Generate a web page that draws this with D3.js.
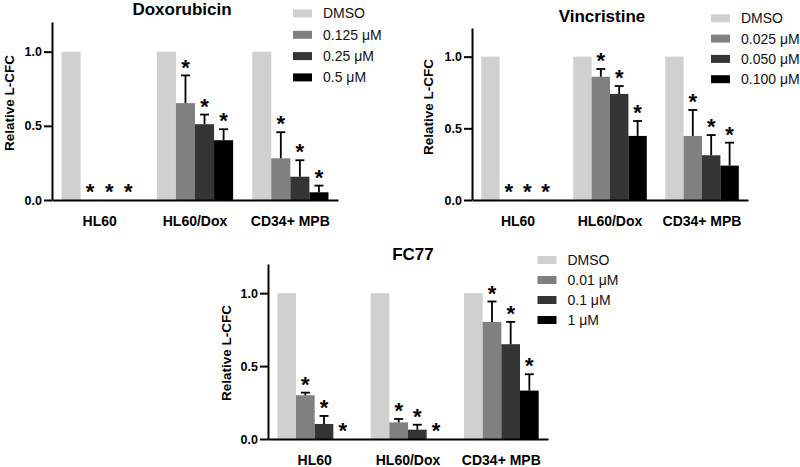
<!DOCTYPE html>
<html>
<head>
<meta charset="utf-8">
<script src="https://cdn.jsdelivr.net/npm/d3@7"></script>
<style>
  body { margin: 0; background: #fff; }
  svg { display: block; font-family: "Liberation Sans", Arial, sans-serif; }
</style>
</head>
<body>
<div id="chart"></div>
<script>
// cell lines on the x axis (same for all three panels)
var groups = ["HL60", "HL60/Dox", "CD34+ MPB"];
var yTicks = [0, 0.5, 1.0];

// Doxorubicin
var doxDoses = ["DMSO", "0.125 μM", "0.25 μM", "0.5 μM"];
var doxMeans = [[1, 0, 0, 0], [1, 0.653, 0.511, 0.403], [1, 0.281, 0.157, 0.052]];
var doxSem   = [[0, 0, 0, 0], [0, 0.187, 0.065, 0.074], [0, 0.176, 0.111, 0.045]];

// Vincristine
var vinDoses = ["DMSO", "0.025 μM", "0.050 μM", "0.100 μM"];
var vinMeans = [[1, 0, 0, 0], [1, 0.86, 0.74, 0.447], [1, 0.447, 0.312, 0.24]];
var vinSem   = [[0, 0, 0, 0], [0, 0.054, 0.055, 0.104], [0, 0.181, 0.141, 0.16]];

// FC77
var fcDoses = ["DMSO", "0.01 μM", "0.1 μM", "1 μM"];
var fcMeans = [[1, 0.30, 0.103, 0], [1, 0.114, 0.064, 0], [1, 0.803, 0.65, 0.332]];
var fcSem   = [[0, 0.018, 0.055, 0], [0, 0.023, 0.034, 0], [0, 0.14, 0.153, 0.112]];

// significance star over every treated bar
var doseStars = [false, true, true, true];

var colors = ["#d0d0d0", "#808080", "#353535", "#000000"];

var svg = d3.select("#chart").append("svg")
    .attr("width", 800)
    .attr("height", 467);

function drawPanel(p) {
    var g = svg.append("g");

    var x = d3.scaleBand().domain(groups).range([p.x0, p.x1])
        .paddingInner(0.2).paddingOuter(0.1);
    var xInner = d3.scaleBand().domain(d3.range(p.doses.length)).range([0, x.bandwidth()]);
    var y = d3.scaleLinear().domain([0, 1.2]).range([p.y0, p.yTop]);

    // bars
    var rows = [];
    groups.forEach(function(grp, gi) {
        p.means[gi].forEach(function(m, di) {
            rows.push({group: grp, dose: di, mean: m, sem: p.sem[gi][di]});
        });
    });

    g.selectAll("rect.bar").data(rows).enter().append("rect")
        .attr("class", "bar")
        .attr("x", function(d) { return x(d.group) + xInner(d.dose); })
        .attr("y", function(d) { return y(d.mean); })
        .attr("width", xInner.bandwidth())
        .attr("height", function(d) { return y(0) - y(d.mean); })
        .attr("fill", function(d) { return colors[d.dose]; });

    // error bars (upper only)
    var errRows = rows.filter(function(d) { return d.sem > 0; });
    var cx = function(d) { return x(d.group) + xInner(d.dose) + xInner.bandwidth() / 2; };
    g.selectAll("line.err").data(errRows).enter().append("line")
        .attr("x1", cx).attr("x2", cx)
        .attr("y1", function(d) { return y(d.mean); })
        .attr("y2", function(d) { return y(d.mean + d.sem); })
        .attr("stroke", "#000").attr("stroke-width", 1.8);
    g.selectAll("line.cap").data(errRows).enter().append("line")
        .attr("x1", function(d) { return cx(d) - 4.5; })
        .attr("x2", function(d) { return cx(d) + 4.5; })
        .attr("y1", function(d) { return y(d.mean + d.sem); })
        .attr("y2", function(d) { return y(d.mean + d.sem); })
        .attr("stroke", "#000").attr("stroke-width", 1.8);

    // stars
    g.selectAll("text.star").data(rows.filter(function(d) { return doseStars[d.dose]; }))
        .enter().append("text")
        .attr("x", cx)
        .attr("y", function(d) { return y(d.mean + d.sem) - 14.5; })
        .attr("dy", "0.62em")
        .attr("text-anchor", "middle")
        .style("font-size", "22px")
        .style("font-weight", "bold")
        .text("*");

    // axes
    var yAxis = d3.axisLeft(y).tickValues(yTicks).tickFormat(d3.format(".1f"))
        .tickSize(8).tickSizeOuter(0).tickPadding(2);
    var ya = g.append("g").attr("transform", "translate(" + p.x0 + ",0)").call(yAxis);
    ya.select(".domain").attr("stroke-width", 2);
    ya.selectAll(".tick line").attr("stroke-width", 2);
    ya.selectAll("text").style("font-size", "12.5px").style("font-weight", "bold").attr("fill", "#000");

    var xAxis = d3.axisBottom(x).tickSize(0).tickSizeOuter(0).tickPadding(16);
    var xa = g.append("g").attr("transform", "translate(0," + p.y0 + ")").call(xAxis);
    xa.select(".domain").attr("stroke-width", 2);
    xa.selectAll("text").style("font-size", "14px").style("font-weight", "bold").attr("fill", "#000");

    // y label
    g.append("text")
        .attr("transform", "translate(" + p.labelX + "," + p.labelY + ") rotate(-90)")
        .attr("text-anchor", "middle")
        .style("font-size", "13.5px")
        .style("font-weight", "bold")
        .text("Relative L-CFC");

    // title
    g.append("text")
        .attr("x", p.titleX).attr("y", p.titleY)
        .attr("text-anchor", "middle")
        .style("font-size", "17px")
        .style("font-weight", "bold")
        .text(p.title);

    // legend
    var leg = g.selectAll("g.leg").data(p.doses).enter().append("g")
        .attr("transform", function(d, i) { return "translate(" + p.legX + "," + (p.legY + i * p.legStep) + ")"; });
    leg.append("rect")
        .attr("x", 0).attr("y", -4).attr("width", 19).attr("height", 8)
        .attr("fill", function(d, i) { return colors[i]; });
    leg.append("text")
        .attr("x", 30).attr("y", 0).attr("dy", "0.35em")
        .style("font-size", "14px")
        .attr("fill", "#111")
        .text(function(d) { return d; });
}

drawPanel({title: "Doxorubicin", doses: doxDoses, means: doxMeans, sem: doxSem,
    x0: 52, x1: 338, y0: 200, yTop: 22, titleX: 182, titleY: 15,
    labelX: 14, labelY: 103, legX: 293, legY: 13.5, legStep: 21.3});

drawPanel({title: "Vincristine", doses: vinDoses, means: vinMeans, sem: vinSem,
    x0: 472, x1: 748, y0: 200, yTop: 28, titleX: 602, titleY: 21.5,
    labelX: 433, labelY: 107, legX: 711, legY: 18.3, legStep: 20.3});

drawPanel({title: "FC77", doses: fcDoses, means: fcMeans, sem: fcSem,
    x0: 268, x1: 548, y0: 439, yTop: 264, titleX: 413, titleY: 260,
    labelX: 231, labelY: 353, legX: 537.5, legY: 260, legStep: 20});
</script>
</body>
</html>
